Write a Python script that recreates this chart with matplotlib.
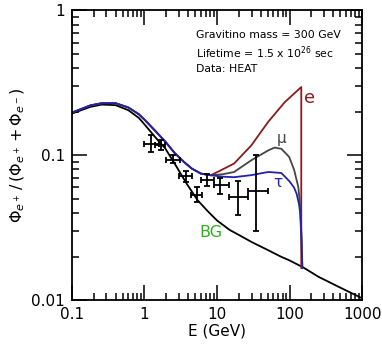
import numpy as np
import matplotlib
matplotlib.use("Agg")
import matplotlib.pyplot as plt

# background (secondary positron fraction)
bg_E = [0.1, 0.18, 0.26, 0.4, 0.6, 0.84, 1.03, 1.4, 1.95, 2.7, 3.8, 5.4, 7.5, 10, 15, 20, 30, 50, 77, 100, 155, 250, 500, 1000]
bg_y = [0.194, 0.216, 0.224, 0.222, 0.205, 0.181, 0.161, 0.134, 0.111, 0.0853, 0.064, 0.049, 0.041, 0.0355, 0.0305, 0.0282, 0.0252, 0.0222, 0.0199, 0.0188, 0.0168, 0.0145, 0.0122, 0.0103]

# common low energy part of the signal curves
sig_E = [0.1, 0.18, 0.26, 0.4, 0.6, 0.84, 1.03, 1.4, 1.95, 2.6, 3.5, 4.5, 6.0, 8.2]
sig_y = [0.197, 0.221, 0.229, 0.229, 0.214, 0.192, 0.174, 0.148, 0.124, 0.104, 0.090, 0.081, 0.0748, 0.0728]

e_E = [11.3, 17.2, 29.7, 50.7, 86, 145, 145]
e_y = [0.0788, 0.0877, 0.117, 0.170, 0.233, 0.296, 0.0167]

mu_E = [12, 17.2, 29.7, 50.7, 62, 77, 99, 116, 132, 140, 146, 150]
mu_y = [0.074, 0.0767, 0.0924, 0.108, 0.113, 0.111, 0.0973, 0.0788, 0.0604, 0.045, 0.028, 0.0167]

tau_E = [12, 17.2, 30, 50.7, 77, 100, 115, 125, 135, 140, 146, 150]
tau_y = [0.0712, 0.0706, 0.073, 0.0767, 0.0755, 0.066, 0.060, 0.0544, 0.046, 0.040, 0.026, 0.0167]

# HEAT data
heat_E = [1.25, 1.67, 2.5, 3.7, 5.3, 7.3, 11.0, 19.5, 35.0]
heat_Elo = [0.98, 1.42, 2.0, 3.0, 4.4, 6.0, 9.0, 14.8, 26.5]
heat_Ehi = [1.58, 1.95, 3.1, 4.6, 6.3, 9.0, 14.8, 26.5, 50.7]
heat_y = [0.120, 0.117, 0.093, 0.0717, 0.053, 0.067, 0.062, 0.0516, 0.0567]
heat_ylo = [0.106, 0.108, 0.088, 0.0655, 0.0475, 0.061, 0.054, 0.039, 0.030]
heat_yhi = [0.138, 0.127, 0.100, 0.078, 0.0605, 0.074, 0.070, 0.066, 0.100]

c_e = '#8b1a1a'
c_mu = '#454545'
c_tau = '#2222a8'

fig = plt.figure(figsize=(3.82, 3.49), dpi=100)
ax = fig.add_axes([0.188, 0.140, 0.760, 0.830])
ax.set_xscale('log')
ax.set_yscale('log')
ax.set_xlim(0.1, 1000)
ax.set_ylim(0.01, 1)

ax.plot(bg_E, bg_y, color='k', lw=1.3)
ax.plot(sig_E + e_E, sig_y + e_y, color=c_e, lw=1.3)
ax.plot(sig_E + mu_E, sig_y + mu_y, color=c_mu, lw=1.3)
ax.plot(sig_E + tau_E, sig_y + tau_y, color=c_tau, lw=1.3)

E = np.array(heat_E)
y = np.array(heat_y)
xerr = [E - np.array(heat_Elo), np.array(heat_Ehi) - E]
yerr = [y - np.array(heat_ylo), np.array(heat_yhi) - y]
ax.errorbar(E, y, xerr=xerr, yerr=yerr, fmt='none', ecolor='k', elinewidth=1.3, capsize=2.2, capthick=1.3)

ax.text(190, 0.247, 'e', color=c_e, fontsize=13, va='center', ha='center')
ax.text(77, 0.131, 'μ', color=c_mu, fontsize=11, va='center', ha='center')
ax.text(68, 0.065, 'τ', color=c_tau, fontsize=11, va='center', ha='center')
ax.text(8.3, 0.0294, 'BG', color='#33aa22', fontsize=11.5, va='center', ha='center')

ax.text(5.1, 0.672, 'Gravitino mass = 300 GeV', fontsize=7.8, va='center')
ax.text(5.1, 0.513, r'Lifetime = 1.5 x 10$^{26}$ sec', fontsize=7.8, va='center')
ax.text(5.1, 0.392, 'Data: HEAT', fontsize=7.8, va='center')

ax.set_xticks([0.1, 1, 10, 100, 1000])
ax.set_xticklabels(['0.1', '1', '10', '100', '1000'])
ax.set_yticks([0.01, 0.1, 1])
ax.set_yticklabels(['0.01', '0.1', '1'])
ax.tick_params(which='both', direction='in', top=True, right=True, labelsize=11, width=1.1)
ax.tick_params(which='major', length=11, pad=5)
ax.tick_params(which='minor', length=5)
for s in ax.spines.values():
    s.set_linewidth(1.3)

ax.set_xlabel('E (GeV)', fontsize=11, labelpad=1)
ax.set_ylabel(r'$\Phi_{e^+}\,/\,(\Phi_{e^+} + \Phi_{e^-})$', fontsize=11.5, labelpad=3)

fig.savefig('out.png', dpi=100)
